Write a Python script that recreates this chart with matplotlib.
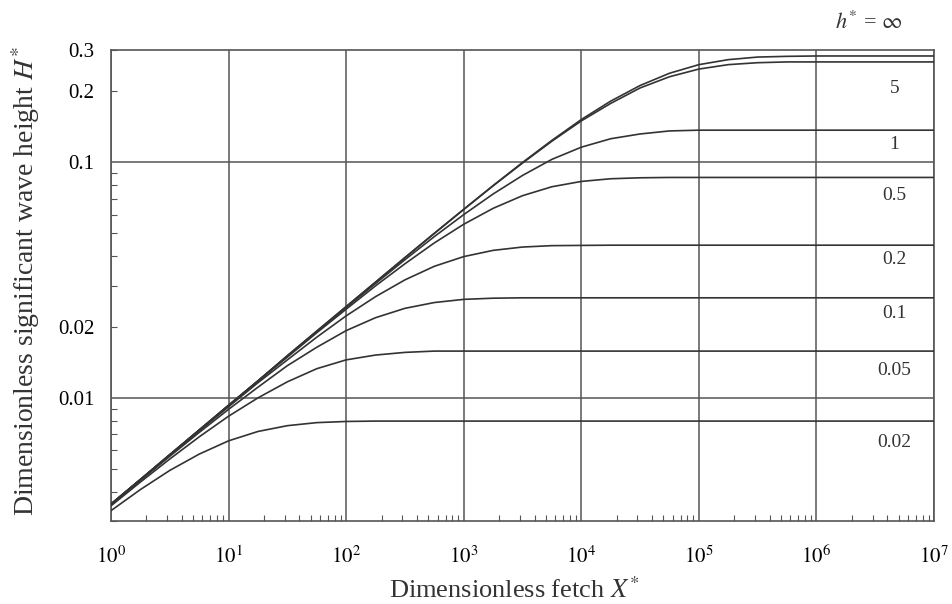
import math
import matplotlib
matplotlib.use('Agg')
import matplotlib.pyplot as plt
from matplotlib.ticker import FixedLocator, LogLocator, FuncFormatter, NullFormatter

plt.rcParams['font.family'] = 'Liberation Serif'
plt.rcParams['mathtext.fontset'] = 'stix'

# dimensionless fetch, quarter-decade steps from 10^0 to 10^7
fetch = [1.0, 1.778, 3.162, 5.623,
         1e1, 1.778e1, 3.162e1, 5.623e1,
         1e2, 1.778e2, 3.162e2, 5.623e2,
         1e3, 1.778e3, 3.162e3, 5.623e3,
         1e4, 1.778e4, 3.162e4, 5.623e4,
         1e5, 1.778e5, 3.162e5, 5.623e5,
         1e6, 1.778e6, 3.162e6, 5.623e6,
         1e7]

# significant wave height H* for each dimensionless depth h*
H_inf = [0.00354, 0.00450, 0.00574, 0.00730, 0.00930, 0.0118, 0.0151, 0.0192,
         0.0244, 0.0310, 0.0394, 0.0500, 0.0632, 0.0797, 0.0999, 0.124,
         0.152, 0.182, 0.212, 0.239, 0.260, 0.273, 0.280, 0.282,
         0.283, 0.283, 0.283, 0.283, 0.283]
H_5 = [0.00354, 0.00450, 0.00574, 0.00730, 0.00930, 0.0118, 0.0151, 0.0192,
       0.0244, 0.0310, 0.0394, 0.0499, 0.0631, 0.0795, 0.0993, 0.123,
       0.150, 0.178, 0.207, 0.231, 0.249, 0.260, 0.265, 0.267,
       0.267, 0.267, 0.267, 0.267, 0.267]
H_1 = [0.00354, 0.00450, 0.00573, 0.00730, 0.00929, 0.0118, 0.0150, 0.0191,
       0.0242, 0.0306, 0.0386, 0.0484, 0.0600, 0.0734, 0.0880, 0.103,
       0.116, 0.126, 0.132, 0.136, 0.137, 0.137, 0.137, 0.137,
       0.137, 0.137, 0.137, 0.137, 0.137]
H_05 = [0.00354, 0.00450, 0.00573, 0.00729, 0.00927, 0.0118, 0.0149, 0.0189,
        0.0238, 0.0299, 0.0371, 0.0455, 0.0546, 0.0638, 0.0722, 0.0788,
        0.0830, 0.0852, 0.0860, 0.0863, 0.0863, 0.0863, 0.0863, 0.0863,
        0.0863, 0.0863, 0.0863, 0.0863, 0.0863]
H_02 = [0.00353, 0.00449, 0.00571, 0.00724, 0.00917, 0.0116, 0.0145, 0.0181,
        0.0223, 0.0269, 0.0317, 0.0362, 0.0398, 0.0423, 0.0437, 0.0443,
        0.0444, 0.0445, 0.0445, 0.0445, 0.0445, 0.0445, 0.0445, 0.0445,
        0.0445, 0.0445, 0.0445, 0.0445, 0.0445]
H_01 = [0.00352, 0.00446, 0.00565, 0.00713, 0.00894, 0.0111, 0.0137, 0.0164,
        0.0193, 0.0219, 0.0240, 0.0254, 0.0262, 0.0265, 0.0266, 0.0266,
        0.0266, 0.0266, 0.0266, 0.0266, 0.0266, 0.0266, 0.0266, 0.0266,
        0.0266, 0.0266, 0.0266, 0.0266, 0.0266]
H_005 = [0.00348, 0.00439, 0.00550, 0.00683, 0.00836, 0.0100, 0.0117, 0.0133,
         0.0145, 0.0152, 0.0156, 0.0158, 0.0158, 0.0158, 0.0158, 0.0158,
         0.0158, 0.0158, 0.0158, 0.0158, 0.0158, 0.0158, 0.0158, 0.0158,
         0.0158, 0.0158, 0.0158, 0.0158, 0.0158]
H_002 = [0.00332, 0.00408, 0.00492, 0.00577, 0.00657, 0.00720, 0.00762, 0.00785,
         0.00794, 0.00797, 0.00797, 0.00797, 0.00797, 0.00797, 0.00797, 0.00797,
         0.00797, 0.00797, 0.00797, 0.00797, 0.00797, 0.00797, 0.00797, 0.00797,
         0.00797, 0.00797, 0.00797, 0.00797, 0.00797]

curves = [H_inf, H_5, H_1, H_05, H_02, H_01, H_005, H_002]

# depth labels and where they sit along the right edge
depth_labels = ['5', '1', '0.5', '0.2', '0.1', '0.05', '0.02']
label_y = [0.205, 0.119, 0.0726, 0.0386, 0.0228, 0.0131, 0.00646]
label_x = 4.6e6

y_labelled = [0.01, 0.02, 0.1, 0.2, 0.3]
x_decades = [1e0, 1e1, 1e2, 1e3, 1e4, 1e5, 1e6, 1e7]

ink = '#333333'
grid_c = '#555555'

fig = plt.figure(figsize=(9.52, 6.04), dpi=100)
ax = fig.add_axes([0.1166, 0.1374, 0.8645, 0.7798])

for vals in curves:
    ax.plot(fetch, vals, color=ink, lw=1.2, zorder=3)

ax.set_xscale('log')
ax.set_yscale('log')
ax.set_xlim(1, 1e7)
ax.set_ylim(0.003, 0.3)

# x axis: gridded decades, small inward minor ticks
ax.xaxis.set_major_locator(FixedLocator(x_decades))
ax.xaxis.set_major_formatter(FuncFormatter(lambda v, p: r'$10^{%d}$' % round(math.log10(v))))
ax.xaxis.set_minor_locator(LogLocator(base=10, subs=[2, 3, 4, 5, 6, 7, 8, 9], numticks=20))
ax.xaxis.set_minor_formatter(NullFormatter())

# y axis: grid at 0.01 and 0.1, extra labels on a few minor ticks
ax.yaxis.set_major_locator(FixedLocator([0.01, 0.1]))
ax.yaxis.set_major_formatter(FuncFormatter(lambda v, p: '%g' % v))
ax.yaxis.set_minor_locator(LogLocator(base=10, subs=[2, 3, 4, 5, 6, 7, 8, 9], numticks=20))


def minor_y(v, p):
    for t in y_labelled:
        if abs(v - t) / t < 1e-3:
            return '%g' % t
    return ''


ax.yaxis.set_minor_formatter(FuncFormatter(minor_y))

ax.grid(which='major', color=grid_c, lw=1.1)
ax.tick_params(which='major', length=0, labelsize=15)
ax.tick_params(axis='x', which='major', pad=18)
ax.tick_params(axis='y', which='major', pad=12)
ax.tick_params(which='minor', direction='in', length=4, width=0.8, color=grid_c,
               labelsize=15)
ax.tick_params(axis='y', which='minor', pad=12)
for s in ax.spines.values():
    s.set_color(grid_c)
    s.set_linewidth(1.2)

for lab, yv in zip(depth_labels, label_y):
    ax.text(label_x, yv, lab, fontsize=14, ha='center', va='center', color=ink)
ax.text(2.8e6, 0.39, r'$h^{*}$ = $\infty$', fontsize=16, ha='center', va='center',
        color=ink, clip_on=False)

ax.set_xlabel(r'Dimensionless fetch $X^{*}$', fontsize=19, color=ink)
ax.set_ylabel(r'Dimensionless significant wave height $H^{*}$', fontsize=20, color=ink)
ax.xaxis.set_label_coords(0.49, -0.12)
ax.yaxis.set_label_coords(-0.084, 0.51)

fig.savefig('out.png', dpi=100)
